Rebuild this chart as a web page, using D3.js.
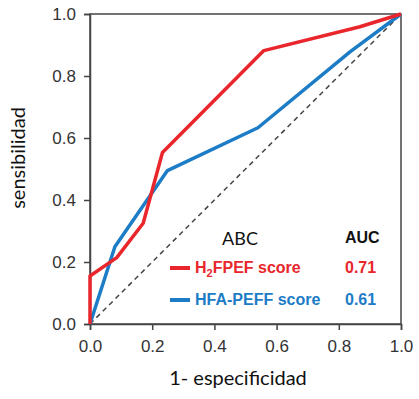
<!DOCTYPE html>
<html>
<head>
<meta charset="utf-8">
<script src="https://cdn.jsdelivr.net/npm/d3@7"></script>
<style>
  body { margin: 0; background: #fff; }
  svg { display: block; }
</style>
</head>
<body>
<svg id="roc" width="419" height="399"></svg>
<script>
// ROC curve points
const h2fpefFpr = [0, 0, 0.086, 0.171, 0.233, 0.559, 0.868, 1];
const h2fpefTpr = [0, 0.155, 0.214, 0.325, 0.553, 0.882, 0.959, 1];
const hfaFpr = [0, 0.08, 0.249, 0.54, 0.836, 1];
const hfaTpr = [0, 0.249, 0.495, 0.633, 0.878, 1];
const ticks = [0, 0.2, 0.4, 0.6, 0.8, 1.0];
const seriesNames = ["H2FPEF score", "HFA-PEFF score"];
const aucValues = ["0.71", "0.61"];

const red = "#e8262c";
const blue = "#1c7cc6";
const axisColor = "#444";

const svg = d3.select("#roc");

const x = d3.scaleLinear().domain([0, 1]).range([90, 401]);
const y = d3.scaleLinear().domain([0, 1]).range([324, 14]);

//box around the plot
svg.append("rect")
  .attr("x", x(0)).attr("y", y(1))
  .attr("width", x(1) - x(0)).attr("height", y(0) - y(1))
  .attr("fill", "none")
  .attr("stroke", axisColor)
  .attr("stroke-width", 1.5);

//x axis
const xAxis = svg.append("g")
  .attr("transform", `translate(0,${y(0)})`)
  .call(d3.axisBottom(x).tickValues(ticks).tickFormat(d3.format(".1f")).tickSize(6).tickPadding(10));
//y axis
const yAxis = svg.append("g")
  .attr("transform", `translate(${x(0)},0)`)
  .call(d3.axisLeft(y).tickValues(ticks).tickFormat(d3.format(".1f")).tickSize(6).tickPadding(8));

[xAxis, yAxis].forEach(a => {
  a.select(".domain").attr("stroke", axisColor).attr("stroke-width", 1.5);
  a.selectAll(".tick line").attr("stroke", axisColor).attr("stroke-width", 1.5);
  a.selectAll(".tick text")
    .attr("fill", "#333")
    .attr("font-family", "Liberation Sans, Arial, sans-serif")
    .attr("font-size", "17px");
});

//chance line
svg.append("line")
  .attr("x1", x(0)).attr("y1", y(0))
  .attr("x2", x(1)).attr("y2", y(1))
  .attr("stroke", axisColor)
  .attr("stroke-width", 1.5)
  .attr("stroke-dasharray", "5,4");

const line = d3.line().x(d => x(d[0])).y(d => y(d[1]));

svg.append("path")
  .datum(hfaFpr.map((f, i) => [f, hfaTpr[i]]))
  .attr("d", line)
  .attr("fill", "none")
  .attr("stroke", blue)
  .attr("stroke-width", 3.5)
  .attr("stroke-linejoin", "round");

svg.append("path")
  .datum(h2fpefFpr.map((f, i) => [f, h2fpefTpr[i]]))
  .attr("d", line)
  .attr("fill", "none")
  .attr("stroke", red)
  .attr("stroke-width", 3.5)
  .attr("stroke-linejoin", "round");

//axis titles
svg.append("text")
  .attr("x", 238).attr("y", 385)
  .attr("text-anchor", "middle")
  .attr("font-family", "Lato, sans-serif")
  .attr("font-size", "20px")
  .attr("fill", "#111")
  .text("1- especificidad");

svg.append("text")
  .attr("transform", "translate(25,158) rotate(-90)")
  .attr("text-anchor", "middle")
  .attr("font-family", "Lato, sans-serif")
  .attr("font-size", "20px")
  .attr("fill", "#111")
  .text("sensibilidad");

//legend
svg.append("text")
  .attr("x", 240).attr("y", 245)
  .attr("text-anchor", "middle")
  .attr("font-family", "Lato, sans-serif")
  .attr("font-size", "18px")
  .attr("fill", "#111")
  .text("ABC");

svg.append("text")
  .attr("x", 345).attr("y", 243)
  .attr("font-family", "Liberation Sans, Arial, sans-serif")
  .attr("font-weight", "bold")
  .attr("font-size", "16px")
  .attr("fill", "#111")
  .text("AUC");

const legendRows = [
  { name: seriesNames[0], auc: aucValues[0], color: red, ly: 268 },
  { name: seriesNames[1], auc: aucValues[1], color: blue, ly: 300 }
];

legendRows.forEach((r, i) => {
  svg.append("line")
    .attr("x1", 170).attr("x2", 190)
    .attr("y1", r.ly).attr("y2", r.ly)
    .attr("stroke", r.color)
    .attr("stroke-width", 4);

  const t = svg.append("text")
    .attr("x", 195).attr("y", r.ly + 5)
    .attr("font-family", "Liberation Sans, Arial, sans-serif")
    .attr("font-weight", "bold")
    .attr("font-size", "16px")
    .attr("fill", r.color);
  if (i === 0) {
    t.append("tspan").text("H");
    t.append("tspan").attr("font-size", "11px").attr("dy", 4).text("2");
    t.append("tspan").attr("dy", -4).text("FPEF score");
  } else {
    t.text(r.name);
  }

  svg.append("text")
    .attr("x", 345).attr("y", r.ly + 5)
    .attr("font-family", "Liberation Sans, Arial, sans-serif")
    .attr("font-weight", "bold")
    .attr("font-size", "16px")
    .attr("fill", r.color)
    .text(r.auc);
});
</script>
</body>
</html>
